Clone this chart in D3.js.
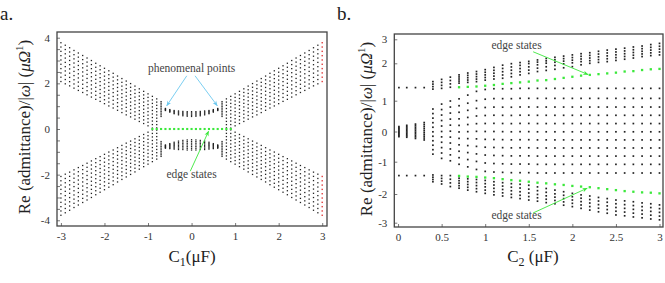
<!DOCTYPE html>
<html><head><meta charset="utf-8">
<script src="https://cdn.jsdelivr.net/npm/d3@7"></script>
<style>
body{margin:0;background:#fff}
svg{display:block}
svg text{font-family:"Liberation Serif","DejaVu Serif",serif}
</style>
</head><body>
<svg id="c" width="665" height="283" font-family="Liberation Serif, DejaVu Serif, serif"></svg>
<script>
// ---------- Panel a data (C1 sweep) ----------
const aBandAbsC1 = [3.0,2.9,2.8,2.7,2.6,2.5,2.4,2.3,2.2,2.1,2.0,1.9,1.8,1.7,1.6,1.5,1.4,1.3,1.2,1.1,1.0,0.9,0.8,0.7];
const aBandHi = [3.78,3.67,3.56,3.44,3.33,3.22,3.11,3.00,2.88,2.77,2.66,2.55,2.44,2.32,2.21,2.10,1.99,1.88,1.76,1.65,1.54,1.43,1.32,1.20];
const aBandLo = [2.08,1.98,1.89,1.79,1.69,1.60,1.50,1.40,1.30,1.21,1.11,1.01,0.92,0.82,0.72,0.62,0.53,0.43,0.33,0.24,0.14,0.04,0.05,0.55];
const aBandCount = 10;
const aArcAbsC1 = [0.0,0.1,0.2,0.3,0.4,0.5,0.6];
const aArcUpTop = [0.76,0.76,0.77,0.79,0.81,0.85,0.90];
const aArcUpBot = [0.55,0.56,0.58,0.62,0.67,0.74,0.81];
const aArcLoTop = [-0.47,-0.48,-0.50,-0.53,-0.58,-0.64,-0.70];
const aArcLoBot = [-0.92,-0.92,-0.90,-0.90,-0.88,-0.86,-0.84];
const aArcUpCount = 5, aArcLoCount = 7;
const aEdgeC1 = [-0.9,-0.8,-0.7,-0.6,-0.5,-0.4,-0.3,-0.2,-0.1,0,0.1,0.2,0.3,0.4,0.5,0.6,0.7,0.8,0.9];
const aEdgeY  = [0,0,0,0,0,0,0,0,0,0,0,0,0,0,0,0,0,0,0];
const aRedC1 = 3.0;
const aXTicks = [-3,-2,-1,0,1,2,3];
const aYTicks = [-4,-3.5,-3,-2.5,-2,-1.5,-1,-0.5,0,0.5,1,1.5,2,2.5,3,3.5,4];

// ---------- Panel b data (C2 sweep) ----------
const bCoreC2 = [0.01,0.1,0.2,0.3];
const bCoreTop = [0.16,0.20,0.24,0.29];
const bCoreBot = [-0.17,-0.19,-0.23,-0.28];
const bCoreCount = 10;
const bSingleUp = [1.35,1.35,1.35,1.35];
const bSingleLo = [-1.43,-1.43,-1.43,-1.43];
const bC2 = [0.4,0.5,0.6,0.7,0.8,0.9,1.0,1.1,1.2,1.3,1.4,1.5,1.6,1.7,1.8,1.9,2.0,2.1,2.2,2.3,2.4,2.5,2.6,2.7,2.8,2.9,3.0];
const bUpTop = [1.51,1.57,1.63,1.69,1.74,1.78,1.83,1.89,1.95,1.99,2.03,2.08,2.14,2.20,2.25,2.30,2.35,2.40,2.44,2.50,2.55,2.59,2.63,2.68,2.72,2.78,2.83];
const bUpBot = [1.31,1.33,1.36,1.47,1.49,1.51,1.55,1.58,1.60,1.64,1.69,1.73,1.78,1.81,1.84,1.88,1.91,1.96,2.00,2.04,2.07,2.12,2.17,2.22,2.28,2.32,2.35];
const bLoTop = [-1.41,-1.43,-1.43,-1.51,-1.53,-1.55,-1.58,-1.62,-1.65,-1.68,-1.70,-1.73,-1.78,-1.83,-1.88,-1.93,-1.98,-2.03,-2.07,-2.12,-2.16,-2.21,-2.24,-2.27,-2.31,-2.34,-2.38];
const bLoBot = [-1.62,-1.69,-1.77,-1.82,-1.88,-1.93,-1.98,-2.03,-2.07,-2.12,-2.16,-2.21,-2.25,-2.30,-2.34,-2.39,-2.44,-2.50,-2.56,-2.62,-2.67,-2.73,-2.76,-2.80,-2.83,-2.87,-2.90];
const bClusterCount = 5;
const bMidTop = [0.73,0.89,0.99,1.05,1.15,1.25,1.30,1.32,1.32,1.32,1.33,1.33,1.33,1.33,1.33,1.33,1.33,1.33,1.33,1.33,1.33,1.33,1.33,1.33,1.33,1.33,1.33];
const bMidBot = [-0.75,-0.89,-0.97,-1.08,-1.16,-1.24,-1.30,-1.32,-1.33,-1.34,-1.34,-1.34,-1.35,-1.35,-1.35,-1.35,-1.35,-1.35,-1.35,-1.35,-1.35,-1.35,-1.35,-1.35,-1.35,-1.35,-1.35];
const bMidCount = 11;
const bEdgeC2 = [0.7,0.8,0.9,1.0,1.1,1.2,1.3,1.4,1.5,1.6,1.7,1.8,1.9,2.0,2.1,2.2,2.3,2.4,2.5,2.6,2.7,2.8,2.9,3.0];
const bEdgeUp = [1.36,1.37,1.38,1.40,1.42,1.45,1.47,1.49,1.51,1.54,1.55,1.58,1.61,1.64,1.67,1.69,1.71,1.73,1.75,1.78,1.79,1.82,1.84,1.85];
const bEdgeLo = [-1.44,-1.46,-1.47,-1.49,-1.51,-1.54,-1.57,-1.59,-1.62,-1.65,-1.67,-1.70,-1.72,-1.75,-1.77,-1.79,-1.82,-1.85,-1.88,-1.91,-1.93,-1.95,-1.96,-1.98];
const bXTicks = [0,0.5,1,1.5,2,2.5,3];
const bYTicks = [3,2,1,0,-1,-2,-3];

// ---------- helpers ----------
const SERIF = '"Liberation Serif","DejaVu Serif",serif';
const svg = d3.select("#c");
const BLACK = "#222", GREEN = "#3be83b", RED = "#e23a3a", BLUE = "#6cc8ef", FRAME = "#444";

function spread(lo, hi, n){ const o=[]; for(let j=0;j<n;j++) o.push(lo+(hi-lo)*j/(n-1)); return o; }

function drawDots(g, pts, sx, sy, size, color){
  g.selectAll(null).data(pts).enter().append("rect")
    .attr("x", d => sx(d[0]) - size/2).attr("y", d => sy(d[1]) - size/2)
    .attr("width", size).attr("height", size).attr("fill", color);
}

function defs(){
  const d = svg.append("defs");
  [["ag",GREEN],["ab",BLUE]].forEach(([id,c])=>{
    d.append("marker").attr("id",id).attr("viewBox","0 0 10 10").attr("refX",9).attr("refY",5)
      .attr("markerWidth",6).attr("markerHeight",6).attr("orient","auto")
      .append("path").attr("d","M0,1 L10,5 L0,9 L3,5 Z").attr("fill",c);
  });
}
defs();

function frameAndAxes(sx, sy, xt, yt, xFmt, yFmt){
  const [x0,x1] = sx.range(); const r = sy.range();
  const yBot = Math.max(...r), yTop = Math.min(...r);
  const gx = svg.append("g").attr("transform",`translate(0,${yBot})`)
    .call(d3.axisBottom(sx).tickValues(xt).tickSizeInner(-3).tickSizeOuter(0).tickPadding(6).tickFormat(xFmt));
  const gy = svg.append("g").attr("transform",`translate(${x0},0)`)
    .call(d3.axisLeft(sy).tickValues(yt).tickSizeInner(-3).tickSizeOuter(0).tickPadding(7).tickFormat(yFmt));
  [gx,gy].forEach(g=>{
    g.attr("font-family", SERIF);
    g.select(".domain").remove();
    g.selectAll(".tick line").attr("stroke","#555").attr("stroke-width",0.8);
    g.selectAll("text").attr("font-size",11).attr("fill","#333").attr("font-family", SERIF);
  });
  svg.append("rect").attr("x",x0).attr("y",yTop).attr("width",x1-x0).attr("height",yBot-yTop)
    .attr("fill","none").attr("stroke",FRAME).attr("stroke-width",1.3);
}

function yTitle(x, y){
  const t = svg.append("text").attr("transform",`translate(${x},${y}) rotate(-90)`)
    .attr("text-anchor","middle").attr("font-size",17).attr("fill","#222").attr("font-family",SERIF);
  t.append("tspan").text("Re (admittance)/|");
  t.append("tspan").attr("font-style","italic").text("ω");
  t.append("tspan").text("| (");
  t.append("tspan").attr("font-style","italic").text("μΩ");
  t.append("tspan").attr("font-size",11).attr("dy",-7).text("1");
  t.append("tspan").attr("dy",7).text(")");
}
function xTitle(x, y, sub, gap){
  const t = svg.append("text").attr("x",x).attr("y",y).attr("text-anchor","middle")
    .attr("font-size",17).attr("fill","#222").attr("font-family",SERIF);
  t.append("tspan").text("C");
  t.append("tspan").attr("font-size",12).attr("dy",4).text(sub);
  t.append("tspan").attr("dy",-4).text(gap+"(μF)");
}
function note(sx, sy, x, y, txt){
  svg.append("text").attr("x",sx(x)).attr("y",sy(y)).attr("text-anchor","middle")
    .attr("dominant-baseline","middle").attr("font-size",11.5).attr("fill","#444")
    .attr("font-family",SERIF).text(txt);
}
function arrow(sx, sy, p, q, color, mk){
  svg.append("line").attr("x1",sx(p[0])).attr("y1",sy(p[1])).attr("x2",sx(q[0])).attr("y2",sy(q[1]))
    .attr("stroke",color).attr("stroke-width",0.9).attr("marker-end",`url(#${mk})`);
}

// ---------- Panel a ----------
const xa = d3.scaleLinear().domain([-3.09,3.11]).range([57,327]);
const ya = d3.scaleLinear().domain([-4.25,4.25]).range([226,32]);
frameAndAxes(xa, ya, aXTicks, aYTicks, d=>String(d), d=> (d%2===0 ? String(d) : ""));

const ga = svg.append("g");
const aBlack = [], aRed = [];
aBandAbsC1.forEach((ax,i)=>{
  [-ax, ax].forEach(x=>{
    const target = (x === aRedC1) ? aRed : aBlack;
    spread(aBandLo[i], aBandHi[i], aBandCount).forEach(y=>{ target.push([x,y]); target.push([x,-y]); });
  });
});
aArcAbsC1.forEach((ax,i)=>{
  const xs = ax===0 ? [0] : [-ax, ax];
  xs.forEach(x=>{
    spread(aArcUpBot[i], aArcUpTop[i], aArcUpCount).forEach(y=>aBlack.push([x,y]));
    spread(aArcLoBot[i], aArcLoTop[i], aArcLoCount).forEach(y=>aBlack.push([x,y]));
  });
});
drawDots(ga, aBlack, xa, ya, 1.3, BLACK);
drawDots(ga, aRed, xa, ya, 1.4, RED);
drawDots(ga, aEdgeC1.map((x,i)=>[x,aEdgeY[i]]), xa, ya, 2.1, GREEN);

note(xa, ya, 0, 2.62, "phenomenal points");
arrow(xa, ya, [-0.11,2.33], [-0.57,1.02], BLUE, "ab");
arrow(xa, ya, [0.08,2.33], [0.59,1.02], BLUE, "ab");
note(xa, ya, 0, -2.02, "edge states");
arrow(xa, ya, [-0.03,-1.85], [0.39,-0.1], GREEN, "ag");

yTitle(30, 127);
xTitle(192, 262, "1", "");
svg.append("text").attr("x",0).attr("y",20).attr("font-size",19).attr("fill","#222").attr("font-family",SERIF).text("a.");

// ---------- Panel b ----------
const xb = d3.scaleLinear().domain([-0.043,3.04]).range([394.3,663]);
const yb = d3.scaleLinear().domain([3.22,3,2,1,0,-1,-2,-3,-3.15])
  .range([34,39.3,63.3,100.7,131.5,161.7,194,222.7,227]);
frameAndAxes(xb, yb, bXTicks, bYTicks, d=>String(d), d=>String(d));

const gb = svg.append("g");
const bBlack = [], bGreen = [];
bCoreC2.forEach((x,i)=>{
  spread(bCoreBot[i], bCoreTop[i], bCoreCount).forEach(y=>bBlack.push([x,y]));
  bBlack.push([x,bSingleUp[i]]); bBlack.push([x,bSingleLo[i]]);
});
bC2.forEach((x,i)=>{
  const n = x < 0.65 ? 4 : bClusterCount;
  spread(bUpBot[i], bUpTop[i], n).forEach(y=>bBlack.push([x,y]));
  spread(bLoBot[i], bLoTop[i], n).forEach(y=>bBlack.push([x,y]));
  spread(bMidBot[i], bMidTop[i], bMidCount).forEach(y=>bBlack.push([x,y]));
});
bEdgeC2.forEach((x,i)=>{ bGreen.push([x,bEdgeUp[i]]); bGreen.push([x,bEdgeLo[i]]); });
drawDots(gb, bBlack, xb, yb, 1.7, BLACK);
drawDots(gb, bGreen, xb, yb, 2.3, GREEN);

note(xb, yb, 1.36, 2.72, "edge states");
arrow(xb, yb, [1.55,2.48], [2.18,1.70], GREEN, "ag");
note(xb, yb, 1.36, -2.78, "edge states");
arrow(xb, yb, [1.55,-2.66], [2.17,-1.82], GREEN, "ag");

yTitle(372, 129);
xTitle(533, 262, "2", " ");
svg.append("text").attr("x",337).attr("y",20).attr("font-size",19).attr("fill","#222").attr("font-family",SERIF).text("b.");
</script>
</body></html>
